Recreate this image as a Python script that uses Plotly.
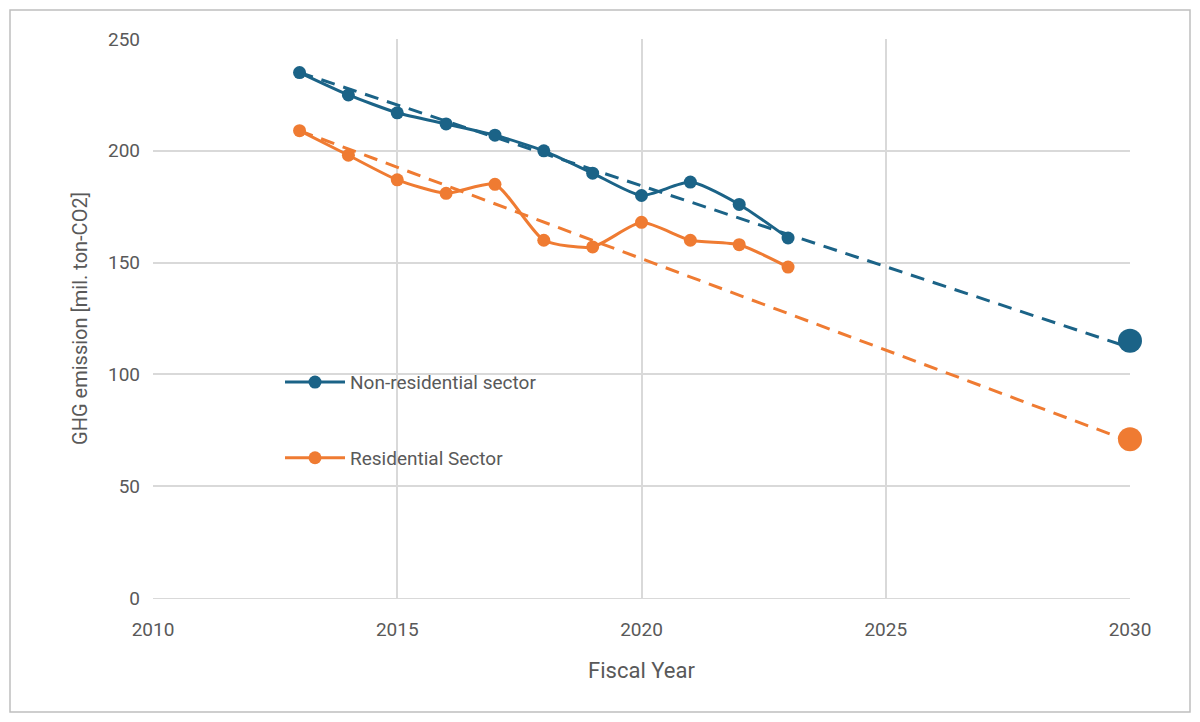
import plotly.graph_objects as go

years = [2013, 2014, 2015, 2016, 2017, 2018, 2019, 2020, 2021, 2022, 2023]
non_res = [235, 225, 217, 212, 207, 200, 190, 180, 186, 176, 161]
res = [209, 198, 187, 181, 185, 160, 157, 168, 160, 158, 148]
target_year = 2030
non_res_target = 115
res_target = 71
non_res_trend_end = 112
res_trend_end = 70

blue = "#1b6387"
orange = "#ef7b32"

fig = go.Figure()
fig.add_trace(go.Scatter(x=[years[0], target_year], y=[non_res[0], non_res_trend_end], mode="lines",
                         line=dict(color=blue, width=3, dash="14px,9px"), showlegend=False))
fig.add_trace(go.Scatter(x=[years[0], target_year], y=[res[0], res_trend_end], mode="lines",
                         line=dict(color=orange, width=3, dash="14px,9px"), showlegend=False))
fig.add_trace(go.Scatter(x=years, y=non_res, mode="lines+markers", name="Non-residential sector",
                         line=dict(color=blue, width=3, shape="spline", smoothing=0.6),
                         marker=dict(size=13, color=blue), legendgroup="a"))
fig.add_trace(go.Scatter(x=years, y=res, mode="lines+markers", name="Residential Sector",
                         line=dict(color=orange, width=3, shape="spline", smoothing=0.6),
                         marker=dict(size=13, color=orange), legendgroup="b"))
fig.add_trace(go.Scatter(x=[target_year], y=[non_res_target], mode="markers",
                         marker=dict(size=24, color=blue), showlegend=False, cliponaxis=False))
fig.add_trace(go.Scatter(x=[target_year], y=[res_target], mode="markers",
                         marker=dict(size=24, color=orange), showlegend=False, cliponaxis=False))

W, H = 1184, 706
L, R, T, B = 145, 62, 31, 116
pw, ph = W - L - R, H - T - B
fig.add_shape(type="rect", xref="paper", yref="paper",
              x0=-(L - 2) / pw, x1=1 + (R - 2) / pw, y0=-(B - 2) / ph, y1=1 + (T - 2) / ph,
              line=dict(color="#bfbfbf", width=1.5), layer="below")

fig.update_layout(
    width=W, height=H, margin=dict(l=L, r=R, t=T, b=B),
    paper_bgcolor="white", plot_bgcolor="white",
    font=dict(family="Roboto, Arial, sans-serif", size=18, color="#595959"),
    legend=dict(x=0.13, y=0.42, xanchor="left", yanchor="top", tracegroupgap=48,
                bgcolor="rgba(0,0,0,0)", font=dict(size=19, color="#595959"), itemwidth=60),
    xaxis=dict(range=[2010, 2030], dtick=5, showgrid=True, gridcolor="#d9d9d9", gridwidth=1.5,
               zeroline=False, showline=True, linecolor="#d9d9d9", ticklabelstandoff=14,
               title=dict(text="Fiscal Year", font=dict(size=22), standoff=22), ticks="",
               tickfont=dict(size=19)),
    yaxis=dict(range=[0, 250], dtick=50, showgrid=True, gridcolor="#d9d9d9", gridwidth=1.5,
               zeroline=False, ticklabelstandoff=12,
               title=dict(text="GHG emission [mil. ton-CO2]", font=dict(size=20), standoff=14),
               tickfont=dict(size=19)),
)
fig.write_html("out.html")
